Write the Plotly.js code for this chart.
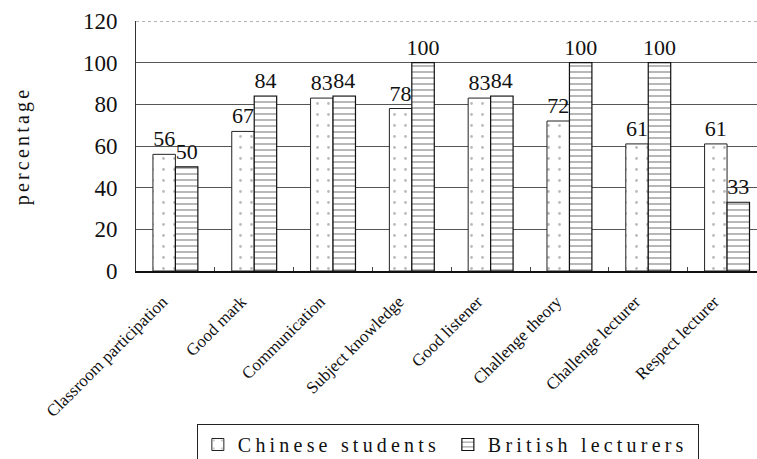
<!DOCTYPE html>
<html>
<head>
<meta charset="utf-8">
<script src="https://cdn.plot.ly/plotly-3.0.1.min.js"></script>
<style>
  html, body { margin: 0; padding: 0; background: #fff; overflow: hidden; }
  #chart { width: 757px; height: 475px; }
  /* wide, typewriter-like spacing for the axis title and legend text */
  #chart .ytitle { letter-spacing: 3.2px; }
  #chart .legendtext { letter-spacing: 4.2px; }
</style>
</head>
<body>
<div id="chart"></div>
<script>
// Survey categories and percentages for each group
const categories = [
  "Classroom participation", "Good mark", "Communication", "Subject knowledge",
  "Good listener", "Challenge theory", "Challenge lecturer", "Respect lecturer"
];
const chineseStudents = [56, 67, 83, 78, 83, 72, 61, 61];
const britishLecturers = [50, 84, 84, 100, 84, 100, 100, 33];
const seriesNames = ["Chinese students", "British lecturers"];
const yTicks = [0, 20, 40, 60, 80, 100, 120];

const labelFont = { family: "Liberation Serif, serif", size: 22, color: "#111" };

const traces = [
  {
    type: "bar",
    name: seriesNames[0],
    x: categories,
    y: chineseStudents,
    text: chineseStudents.map(String),
    textposition: "outside",
    constraintext: "none",
    cliponaxis: false,
    textfont: labelFont,
    marker: {
      color: "#ffffff",
      line: { color: "#222", width: 1 },
      pattern: { shape: ".", size: 11, solidity: 0.05, fgcolor: "#bbb", bgcolor: "#ffffff" }
    }
  },
  {
    type: "bar",
    name: seriesNames[1],
    x: categories,
    y: britishLecturers,
    text: britishLecturers.map(String),
    textposition: "outside",
    constraintext: "none",
    cliponaxis: false,
    textfont: labelFont,
    marker: {
      color: "#ffffff",
      line: { color: "#111", width: 1.2 },
      pattern: { shape: "-", size: 6, solidity: 0.14, fgcolor: "#555", bgcolor: "#ffffff" }
    }
  }
];

// The figure is taller than the visible page, so the lower edge of the legend box runs off the bottom.
const layout = {
  width: 757,
  height: 475,
  margin: { l: 136, r: 0, t: 21, b: 204 },
  paper_bgcolor: "#ffffff",
  plot_bgcolor: "#ffffff",
  barmode: "group",
  bargap: 0.43,
  bargroupgap: 0,
  showlegend: true,
  legend: {
    orientation: "h",
    x: 0.098, xanchor: "left",
    y: -0.612, yanchor: "top",
    bordercolor: "#222",
    borderwidth: 1,
    itemwidth: 30,
    entrywidth: 205,
    entrywidthmode: "pixels",
    font: { family: "Liberation Serif, serif", size: 20, color: "#111" },
    traceorder: "normal"
  },
  xaxis: {
    type: "category",
    range: [-0.5, 7.38],
    showgrid: false,
    showline: true,
    linecolor: "#111",
    linewidth: 2,
    ticks: "inside",
    ticklen: 4,
    tickcolor: "#444",
    tickson: "boundaries",
    tickangle: -45,
    tickfont: { family: "Liberation Serif, serif", size: 17, color: "#111" },
    ticklabelstandoff: 12,
    ticklabelshift: -13
  },
  yaxis: {
    range: [0, 120],
    tickvals: yTicks,
    ticktext: yTicks.map(String),
    showgrid: true,
    gridcolor: "#555",
    gridwidth: 1,
    zeroline: false,
    showline: true,
    linecolor: "#333",
    linewidth: 1,
    ticks: "outside",
    ticklen: 13,
    tickcolor: "rgba(0,0,0,0)",
    tickfont: { family: "Liberation Serif, serif", size: 23, color: "#111" },
    title: {
      text: "percentage",
      font: { family: "Liberation Serif, serif", size: 20, color: "#111" },
      standoff: 47
    }
  },
  shapes: [
    { type: "line", xref: "paper", yref: "y", x0: 0, x1: 1, y0: 120, y1: 120,
      line: { color: "#ffffff", width: 2 }, layer: "above" },
    { type: "line", xref: "paper", yref: "y", x0: 0, x1: 1, y0: 120, y1: 120,
      line: { color: "#666", width: 1, dash: "dot" }, layer: "above" }
  ]
};

Plotly.newPlot("chart", traces, layout, { displayModeBar: false, staticPlot: true });
</script>
</body>
</html>
